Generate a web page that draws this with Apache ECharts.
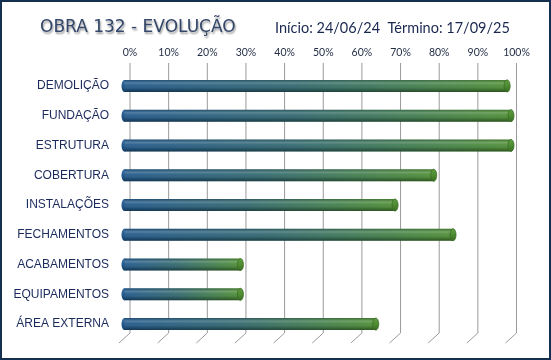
<!DOCTYPE html>
<html>
<head>
<meta charset="utf-8">
<script src="https://cdn.jsdelivr.net/npm/echarts@6/dist/echarts.min.js"></script>
<style>
html,body{margin:0;padding:0;background:#fff;}
#frame{width:551px;height:360px;box-sizing:border-box;border:2px solid #15304f;background:#fff;position:relative;}
#chart{position:absolute;left:-2px;top:-2px;width:551px;height:360px;}
</style>
</head>
<body>
<div id="frame"><div id="chart"></div></div>
<script>
const categories = ['DEMOLIÇÃO','FUNDAÇÃO','ESTRUTURA','COBERTURA','INSTALAÇÕES','FECHAMENTOS','ACABAMENTOS','EQUIPAMENTOS','ÁREA EXTERNA'];
const progress = [99, 100, 100, 80, 70, 85, 30, 30, 65];
const tickValues = [0, 10, 20, 30, 40, 50, 60, 70, 80, 90, 100];
const titleText = 'OBRA 132 - EVOLUÇÃO';
const subtitleText = 'Início: 24/06/24  Término: 17/09/25';

const chart = echarts.init(document.getElementById('chart'), null, {renderer:'canvas'});

const DEPTH_SHIFT = -5.5;

function renderBar(params, api) {
  const c = api.value(0);
  const v = api.value(1);
  const p0 = api.coord([0, c]);
  const p1 = api.coord([v, c]);
  const x0 = p0[0] + DEPTH_SHIFT;
  const x1 = p1[0] + DEPTH_SHIFT;
  const cy = p0[1];
  const h = 12;
  const rx = 3;
  return {
    type: 'group',
    children: [
      {type:'ellipse', shape:{cx:x0, cy:cy, rx:rx, ry:h/2},
       style:{fill:new echarts.graphic.LinearGradient(0,0,0,1,[{offset:0,color:'#3b72a6'},{offset:0.5,color:'#245a8c'},{offset:1,color:'#163f66'}])}},
      {type:'rect', shape:{x:x0, y:cy-h/2, width:x1-x0, height:h},
       style:{fill:new echarts.graphic.LinearGradient(0,0,1,0,[
         {offset:0,color:'#235a8c'},{offset:0.45,color:'#33696f'},{offset:1,color:'#4f8f36'}])}},
      {type:'rect', shape:{x:x0, y:cy-h/2, width:x1-x0, height:h},
       style:{fill:new echarts.graphic.LinearGradient(0,0,0,1,[
         {offset:0,color:'rgba(0,0,0,0.15)'},
         {offset:0.25,color:'rgba(255,255,255,0.22)'},
         {offset:0.45,color:'rgba(255,255,255,0.05)'},
         {offset:0.8,color:'rgba(0,0,0,0.18)'},
         {offset:1,color:'rgba(0,0,0,0.4)'}])}},
      {type:'ellipse', shape:{cx:x1, cy:cy, rx:rx, ry:h/2},
       style:{fill:new echarts.graphic.LinearGradient(0,0,0,1,[{offset:0,color:'#5f9f42'},{offset:0.5,color:'#4e8b32'},{offset:1,color:'#386a22'}]),
              stroke:'#3a6b24', lineWidth:0.8}}
    ]
  };
}

function renderGrid(params, api) {
  const t = api.value(0);
  const p = api.coord([t, 0]);
  const cs = params.coordSys;
  const top = cs.y - 8;
  const bottom = cs.y + cs.height - 6;
  return {
    type:'polyline',
    shape:{points:[[p[0], top],[p[0], bottom],[p[0]-11, bottom+10]]},
    style:{stroke:'#9a9a9a', lineWidth:1, fill:null}
  };
}

chart.setOption({
  animation:false,
  backgroundColor:'transparent',
  title:[
    {text:titleText, left:35, top:14,
     textStyle:{fontFamily:'DejaVu Sans', fontSize:17, fontWeight:'normal', color:'#33476a',
       textShadowColor:'rgba(50,50,50,0.5)', textShadowBlur:2, textShadowOffsetX:1, textShadowOffsetY:2}},
    {text:subtitleText, left:270, top:16,
     textStyle:{fontFamily:'Lato', fontSize:14.5, fontWeight:'normal', color:'#1a2850'}}
  ],
  grid:{left:130, right:34.5, top:71, bottom:21, containLabel:false},
  xAxis:{type:'value', position:'top', min:0, max:100, interval:10,
    axisLine:{show:false}, axisTick:{show:false}, splitLine:{show:false},
    axisLabel:{formatter:'{value}%', margin:13, fontFamily:'Lato', fontSize:10.5, color:'#1f2a44'}},
  yAxis:{type:'category', data:categories, inverse:true,
    axisLine:{show:false}, axisTick:{show:false}, splitLine:{show:false},
    axisLabel:{margin:21, fontFamily:'Liberation Sans', fontSize:12, color:'#1b2a5c'}},
  series:[
    {type:'custom', renderItem:renderGrid, data:tickValues.map(t=>[t]), encode:{x:0}, z:1, silent:true},
    {type:'custom', renderItem:renderBar, data:progress.map((v,i)=>[i, v]), encode:{y:0, x:1}, z:2}
  ]
});
</script>
</body>
</html>
